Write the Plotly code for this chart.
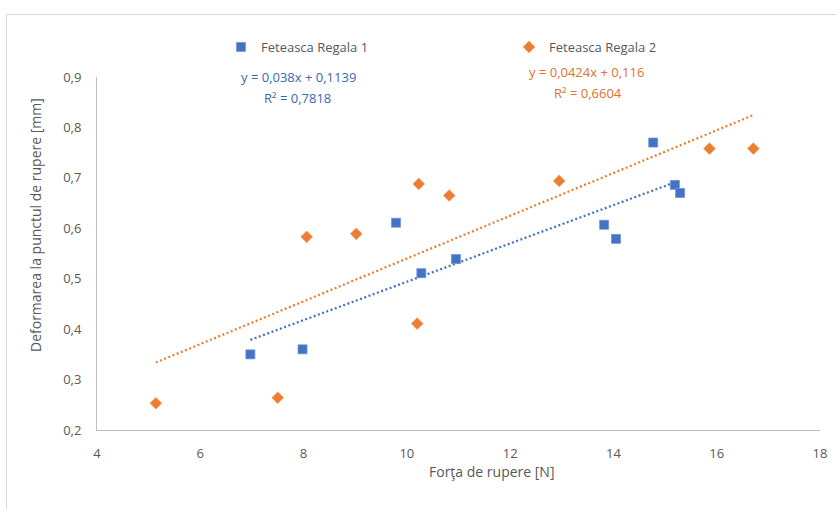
import plotly.graph_objects as go

# Measured samples: breaking force [N] vs. deformation at the breaking point [mm]
force_fr1 = [6.97, 7.98, 9.79, 10.28, 10.95, 13.82, 14.05, 14.77, 15.19, 15.29]
deform_fr1 = [0.350, 0.360, 0.611, 0.511, 0.539, 0.607, 0.579, 0.770, 0.686, 0.670]

force_fr2 = [5.14, 7.50, 8.06, 9.02, 10.20, 10.23, 10.82, 12.95, 15.86, 16.71]
deform_fr2 = [0.253, 0.264, 0.583, 0.589, 0.411, 0.688, 0.665, 0.694, 0.758, 0.758]

series_names = ["Feteasca Regala 1", "Feteasca Regala 2"]

# Linear trendline coefficients (slope, intercept, R²) as printed on the chart
slope_fr1, intercept_fr1, r2_fr1 = 0.038, 0.1139, 0.7818
slope_fr2, intercept_fr2, r2_fr2 = 0.0424, 0.116, 0.6604

x_ticks = [4, 6, 8, 10, 12, 14, 16, 18]
y_ticks = [0.2, 0.3, 0.4, 0.5, 0.6, 0.7, 0.8, 0.9]

BLUE = "#4472C4"
ORANGE = "#ED7D31"
BLUE_TXT = "#3C67B4"
ORANGE_TXT = "#DE7230"
GREY_TXT = "#595959"
FONT = "Open Sans"

W, H = 836, 509
ML, MR, MT, MB = 97, 16, 77, 79
PW, PH = W - ML - MR, H - MT - MB


def px_to_paper(px, py):
    return (px - ML) / PW, (H - MB - py) / PH


def fmt(v):
    return f"{v}".replace(".", ",")


def trend(xs, m, b):
    x0, x1 = min(xs), max(xs)
    return [x0, x1], [m * x0 + b, m * x1 + b]


fig = go.Figure()

tx1, ty1 = trend(force_fr1, slope_fr1, intercept_fr1)
tx2, ty2 = trend(force_fr2, slope_fr2, intercept_fr2)

fig.add_trace(go.Scatter(x=tx1, y=ty1, mode="lines", showlegend=False, hoverinfo="skip",
                         line=dict(color=BLUE, width=2.25, dash="2px,2.5px")))
fig.add_trace(go.Scatter(x=tx2, y=ty2, mode="lines", showlegend=False, hoverinfo="skip",
                         line=dict(color=ORANGE, width=2.25, dash="2px,2.5px")))

fig.add_trace(go.Scatter(x=force_fr1, y=deform_fr1, mode="markers", name=series_names[0],
                         marker=dict(symbol="square", size=9, color=BLUE,
                                     line=dict(width=0.75, color="#6F93D6"))))
fig.add_trace(go.Scatter(x=force_fr2, y=deform_fr2, mode="markers", name=series_names[1],
                         marker=dict(symbol="diamond", size=9, color=ORANGE,
                                     line=dict(width=0.75, color="#F29A5E"))))

annotations = []


def add_text(text, px, py, color, size=13, angle=0):
    ax, ay = px_to_paper(px, py)
    annotations.append(dict(text=text, x=ax, y=ay, xref="paper", yref="paper",
                            xanchor="center", yanchor="middle", showarrow=False,
                            textangle=angle, font=dict(family=FONT, size=size, color=color)))


add_text(f"y = {fmt(slope_fr1)}x + {fmt(intercept_fr1)}", 298, 77, BLUE_TXT)
add_text(f"R² = {fmt(r2_fr1)}", 297, 98, BLUE_TXT)
add_text(f"y = {fmt(slope_fr2)}x + {fmt(intercept_fr2)}", 586, 72, ORANGE_TXT)
add_text(f"R² = {fmt(r2_fr2)}", 588, 93, ORANGE_TXT)
add_text("Forţa de rupere [N]", 492, 471, GREY_TXT, size=14)
add_text("Deformarea la punctul de rupere [mm]", 35, 225, GREY_TXT, size=14, angle=-90)

# Chart frame
bx0, by0 = px_to_paper(6.5, 14.5)
bx1, by1 = px_to_paper(845, 520)
shapes = [dict(type="rect", xref="paper", yref="paper", x0=bx0, y0=by1, x1=bx1, y1=by0,
               line=dict(color="#D9D9D9", width=1), fillcolor="rgba(0,0,0,0)", layer="below")]

lx, ly = px_to_paper(221, 47)

fig.update_layout(
    width=W, height=H,
    margin=dict(l=ML, r=MR, t=MT, b=MB, autoexpand=False),
    paper_bgcolor="white", plot_bgcolor="white",
    separators=", ",
    font=dict(family=FONT, size=13, color=GREY_TXT),
    showlegend=True,
    legend=dict(orientation="h", x=lx, y=ly, xanchor="left", yanchor="middle",
                entrywidth=243, entrywidthmode="pixels",
                font=dict(family=FONT, size=13, color=GREY_TXT),
                bgcolor="rgba(0,0,0,0)", itemclick=False),
    annotations=annotations,
    shapes=shapes,
    xaxis=dict(range=[4, 18], tickvals=x_ticks, tickformat="d", showgrid=False, zeroline=False,
               showline=True, linecolor="#BFBFBF", linewidth=1, ticks="",
               ticklabelstandoff=11, tickfont=dict(family=FONT, size=13, color=GREY_TXT)),
    yaxis=dict(range=[0.2, 0.9], tickvals=y_ticks, tickformat=".1f", showgrid=False, zeroline=False,
               showline=True, linecolor="#BFBFBF", linewidth=1, ticks="",
               ticklabelstandoff=12, tickfont=dict(family=FONT, size=13, color=GREY_TXT)),
)

fig.write_html("out.html")
